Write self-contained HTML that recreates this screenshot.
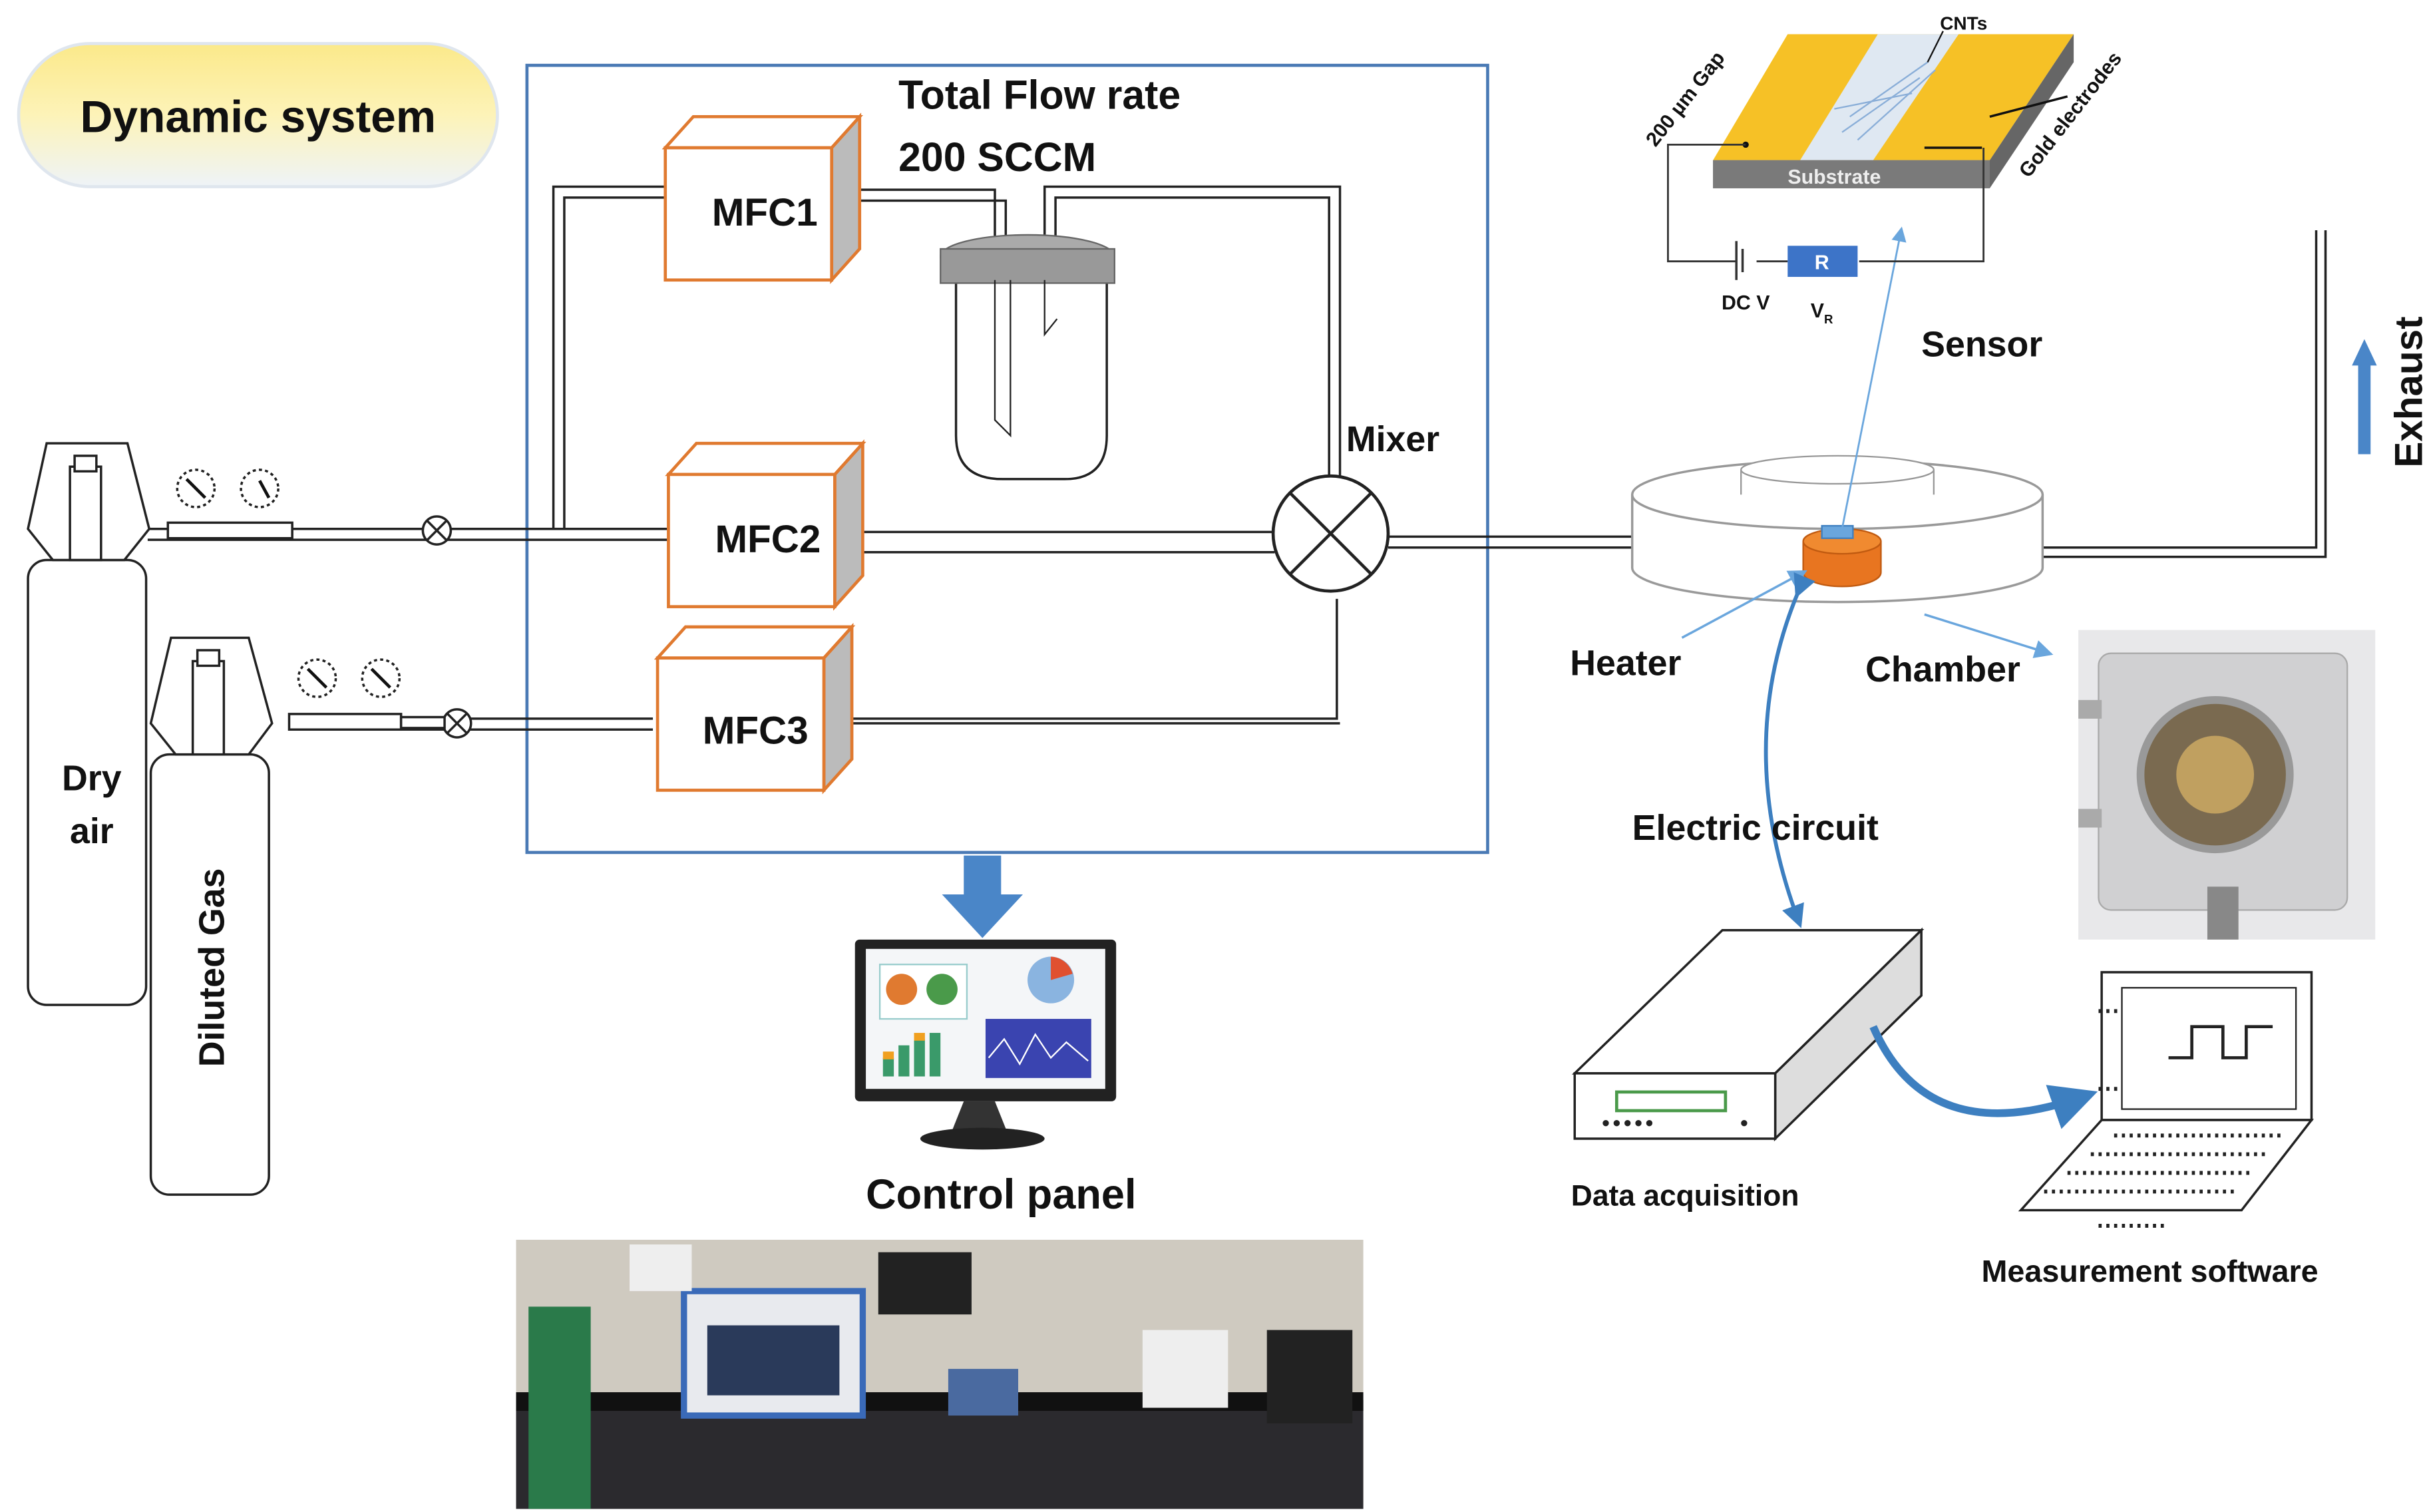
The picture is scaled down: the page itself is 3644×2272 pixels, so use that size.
<!DOCTYPE html>
<html><head><meta charset="utf-8"><style>
html,body{margin:0;padding:0;background:#fff;}
svg{display:block;}
text{font-family:"Liberation Sans",sans-serif;font-weight:bold;fill:#111;}
</style></head><body>
<svg width="3644" height="2272" viewBox="0 0 1560 972" preserveAspectRatio="none" xmlns="http://www.w3.org/2000/svg">
<defs>
<linearGradient id="yg" x1="0" y1="0" x2="0" y2="1"><stop offset="0" stop-color="#fbe98a"/><stop offset="0.5" stop-color="#fdf3b8"/><stop offset="1" stop-color="#eef3f8"/></linearGradient>
<marker id="ab" markerWidth="8" markerHeight="8" refX="6" refY="4" orient="auto"><path d="M0,0 L8,4 L0,8 z" fill="#6aa6dd"/></marker>
<marker id="ab2" markerWidth="6" markerHeight="6" refX="4" refY="3" orient="auto"><path d="M0,0 L6,3 L0,6 z" fill="#3d7fc0"/></marker>
</defs>
<rect width="1560" height="972" fill="#fff"/>
<!-- title pill -->
<rect x="12" y="28" width="308" height="92" rx="46" fill="url(#yg)" stroke="#dfe6ee" stroke-width="2"/>
<text x="166" y="85" font-size="29" text-anchor="middle">Dynamic system</text>
<!-- main box -->
<rect x="339" y="42" width="618" height="506" fill="none" stroke="#4a7ab5" stroke-width="2"/>
<text x="578" y="70" font-size="26">Total Flow rate</text>
<text x="578" y="110" font-size="26">200 SCCM</text>
<!-- pipes (double lines) -->
<g fill="none" stroke="#222" stroke-width="1.5">
<path d="M95,340 H430 M95,347 H430"/>
<path d="M356,340 V120 H430 M363,340 V127 H430"/>
<path d="M555,342 H820 M555,355 H820"/>
<path d="M893,345 H1052 M893,352 H1052"/>
<path d="M535,122 H640 V215 M535,129 H647 V215"/>
<path d="M672,215 V120 H862 V310 M679,205 V127 H855 V310"/>
<path d="M520,462 H860 V385 M520,465 H862"/>
<path d="M190,462 H420 M190,469 H420"/>
<path d="M1312,352 H1490 V148 M1312,358 H1496 V148"/>
</g>
<!-- valves -->
<g fill="#fff" stroke="#222" stroke-width="1.5">
<circle cx="281" cy="341" r="9"/><path d="M275,335 L287,347 M287,335 L275,347"/>
<circle cx="294" cy="465" r="9"/><path d="M288,459 L300,471 M300,459 L288,471"/>
<rect x="108" y="336" width="80" height="10"/>
<rect x="186" y="459" width="72" height="10"/>
<rect x="258" y="461" width="28" height="7"/>
</g>
<!-- gauges -->
<g fill="#fff" stroke="#222" stroke-width="1.5" stroke-dasharray="2,2">
<circle cx="126" cy="314" r="12"/><circle cx="167" cy="314" r="12"/>
<circle cx="204" cy="436" r="12"/><circle cx="245" cy="436" r="12"/>
</g>
<g stroke="#111" stroke-width="2"><path d="M120,308 L132,320 M167,309 L173,320 M198,430 L210,442 M239,430 L251,442"/></g>
<!-- cylinders -->
<g fill="#fff" stroke="#222" stroke-width="1.5">
<rect x="18" y="360" width="76" height="286" rx="12"/>
<path d="M30,285 H82 L96,340 L80,360 H34 L18,340 Z"/>
<rect x="45" y="300" width="20" height="60"/><rect x="48" y="293" width="14" height="10"/>
<rect x="97" y="485" width="76" height="283" rx="12"/>
<path d="M110,410 H160 L175,465 L160,485 H113 L97,465 Z"/>
<rect x="124" y="425" width="20" height="60"/><rect x="127" y="418" width="14" height="10"/>
</g>
<text x="59" y="508" font-size="23" text-anchor="middle">Dry</text>
<text x="59" y="542" font-size="23" text-anchor="middle">air</text>
<text transform="translate(144,622) rotate(-90)" font-size="23" text-anchor="middle">Diluted Gas</text>
<!-- MFCs -->
<g stroke-width="2">
<path d="M535,95 L553,75 V160 L535,180 Z" fill="#bbb" stroke="#e07a30"/>
<path d="M428,95 L446,75 H553 L535,95 Z" fill="#fff" stroke="#e07a30"/>
<rect x="428" y="95" width="107" height="85" fill="#fff" stroke="#e07a30"/>
<path d="M537,305 L555,285 V370 L537,390 Z" fill="#bbb" stroke="#e07a30"/>
<path d="M430,305 L448,285 H555 L537,305 Z" fill="#fff" stroke="#e07a30"/>
<rect x="430" y="305" width="107" height="85" fill="#fff" stroke="#e07a30"/>
<path d="M530,423 L548,403 V488 L530,508 Z" fill="#bbb" stroke="#e07a30"/>
<path d="M423,423 L441,403 H548 L530,423 Z" fill="#fff" stroke="#e07a30"/>
<rect x="423" y="423" width="107" height="85" fill="#fff" stroke="#e07a30"/>
</g>
<text x="492" y="145" font-size="25" text-anchor="middle">MFC1</text>
<text x="494" y="355" font-size="25" text-anchor="middle">MFC2</text>
<text x="486" y="478" font-size="25" text-anchor="middle">MFC3</text>
<!-- bubbler -->
<path d="M615,178 V280 Q615,308 645,308 H685 Q712,308 712,280 V178" fill="#fff" stroke="#222" stroke-width="1.5"/>
<ellipse cx="661" cy="165" rx="56" ry="14" fill="#aaa" stroke="#666"/>
<rect x="605" y="160" width="112" height="22" fill="#999" stroke="#666"/>
<path d="M640,180 V270 L650,280 V180" fill="none" stroke="#222"/>
<path d="M672,180 V215 L680,205" fill="none" stroke="#222"/>
<!-- mixer -->
<circle cx="856" cy="343" r="37" fill="#fff" stroke="#222" stroke-width="2"/>
<path d="M830,317 L882,369 M882,317 L830,369" stroke="#222" stroke-width="2"/>
<text x="866" y="290" font-size="23">Mixer</text>
<!-- arrow down to monitor -->
<path d="M620,550 H644 V575 H658 L632,603 L606,575 H620 Z" fill="#4a86c8"/>
<!-- monitor -->
<rect x="550" y="604" width="168" height="104" rx="3" fill="#222"/>
<rect x="557" y="610" width="154" height="90" fill="#f4f6f8"/>
<rect x="566" y="620" width="56" height="35" fill="#fff" stroke="#9cc"/>
<circle cx="580" cy="636" r="10" fill="#e07a30"/><circle cx="606" cy="636" r="10" fill="#4a9a4a"/>
<circle cx="676" cy="630" r="15" fill="#8ab4e0"/><path d="M676,630 L676,615 A15,15 0 0,1 690,626 Z" fill="#e05030"/>
<g fill="#3a9a6a"><rect x="568" y="680" width="7" height="12"/><rect x="578" y="672" width="7" height="20"/><rect x="588" y="668" width="7" height="24"/><rect x="598" y="664" width="7" height="28"/></g>
<g fill="#f0a020"><rect x="568" y="676" width="7" height="5"/><rect x="588" y="664" width="7" height="5"/></g>
<rect x="634" y="655" width="68" height="38" fill="#3a44b0"/>
<path d="M636,680 L646,668 L656,684 L666,665 L676,680 L686,670 L700,682" stroke="#fff" fill="none"/>
<path d="M625,708 L640,708 L648,728 H612 L620,708 Z" fill="#333"/>
<ellipse cx="632" cy="732" rx="40" ry="7" fill="#222"/>
<text x="644" y="777" font-size="27" text-anchor="middle">Control panel</text>
<!-- lab photo -->
<rect x="332" y="797" width="545" height="173" fill="#cfcac0"/>
<rect x="332" y="900" width="545" height="70" fill="#2b2a2e"/>
<rect x="332" y="895" width="545" height="12" fill="#111"/>
<rect x="440" y="830" width="115" height="80" fill="#e8eaee" stroke="#3a6ab8" stroke-width="4"/>
<rect x="455" y="852" width="85" height="45" fill="#2a3a5a"/>
<rect x="340" y="840" width="40" height="130" fill="#2a7a4a"/>
<rect x="565" y="805" width="60" height="40" fill="#222"/>
<rect x="610" y="880" width="45" height="30" fill="#4a6aa0"/>
<rect x="735" y="855" width="55" height="50" fill="#eeeeee"/>
<rect x="815" y="855" width="55" height="60" fill="#222"/>
<rect x="405" y="800" width="40" height="30" fill="#eee"/>
<!-- chamber -->
<path d="M1050,318 V365 A132,22 0 0,0 1314,365 V318" fill="#fff" stroke="#999" stroke-width="1.5"/>
<ellipse cx="1182" cy="318" rx="132" ry="22" fill="#fff" stroke="#999" stroke-width="1.5"/>
<ellipse cx="1182" cy="302" rx="62" ry="9" fill="#fff" stroke="#999"/>
<path d="M1120,302 V318 M1244,302 V318" stroke="#999"/>
<path d="M1160,348 V368 A25,9 0 0,0 1210,368 V348" fill="#e87520" stroke="#c05a10"/>
<ellipse cx="1185" cy="348" rx="25" ry="8" fill="#f08a30" stroke="#c05a10"/>
<rect x="1172" y="338" width="20" height="8" fill="#6aa6dd" stroke="#3d7fc0"/>
<text x="1010" y="434" font-size="23">Heater</text>
<text x="1200" y="438" font-size="23">Chamber</text>
<path d="M1082,410 L1160,368" stroke="#6aa6dd" stroke-width="1.5" marker-end="url(#ab)"/>
<path d="M1238,395 L1318,420" stroke="#6aa6dd" stroke-width="1.5" marker-end="url(#ab)"/>
<path d="M1185,340 L1223,148" stroke="#6aa6dd" stroke-width="1.2" marker-end="url(#ab)"/>
<!-- chamber photo -->
<rect x="1337" y="405" width="191" height="199" fill="#e8e8ea"/>
<rect x="1350" y="420" width="160" height="165" rx="8" fill="#d0d0d2" stroke="#aaa"/>
<circle cx="1425" cy="498" r="48" fill="#7a6a50" stroke="#999" stroke-width="5"/>
<circle cx="1425" cy="498" r="25" fill="#c0a060"/>
<rect x="1337" y="450" width="15" height="12" fill="#aaa"/><rect x="1337" y="520" width="15" height="12" fill="#aaa"/>
<rect x="1420" y="570" width="20" height="34" fill="#888"/>
<!-- exhaust -->
<text transform="translate(1558,252) rotate(-90)" font-size="25" text-anchor="middle">Exhaust</text>
<path d="M1517,292 V235 H1513 L1521,218 L1529,235 H1525 V292 Z" fill="#4a86c8"/>
<!-- sensor -->
<path d="M1150,22 H1334 L1280,103 H1102 Z" fill="#f6c126"/>
<path d="M1208,22 H1260 L1205,103 H1158 Z" fill="#dfe8f2"/>
<g stroke="#8aaed8" stroke-width="1"><path d="M1190,75 L1240,40 M1185,85 L1235,50 M1195,90 L1245,45 M1180,70 L1230,60"/></g>
<path d="M1102,103 H1280 L1334,22 V40 L1280,121 H1102 Z" fill="#666"/>
<rect x="1102" y="103" width="178" height="18" fill="#7a7a7a"/>
<text x="1180" y="118" font-size="13" fill="#eee" style="fill:#eee" text-anchor="middle">Substrate</text>
<text x="1248" y="19" font-size="12">CNTs</text>
<path d="M1250,20 L1240,40" stroke="#111"/>
<text transform="translate(1065,95) rotate(-52)" font-size="13">200 µm Gap</text>
<text transform="translate(1305,115) rotate(-52)" font-size="13">Gold electrodes</text>
<path d="M1280,75 L1330,62" stroke="#111" stroke-width="1.5"/>
<path d="M1238,95 L1275,95" stroke="#111" stroke-width="1.5"/>
<circle cx="1123" cy="93" r="2" fill="#111"/>
<path d="M1123,93 H1073 V168 H1117 M1130,168 H1150 M1196,168 H1276 V95" fill="none" stroke="#333" stroke-width="1.2"/>
<path d="M1117,155 V180 M1121,160 V175" stroke="#333" stroke-width="1.5"/>
<rect x="1150" y="158" width="45" height="20" fill="#3d74c8"/>
<text x="1172" y="173" font-size="13" style="fill:#fff" text-anchor="middle">R</text>
<text x="1123" y="199" font-size="13" text-anchor="middle">DC V</text>
<text x="1172" y="204" font-size="13" text-anchor="middle">V<tspan font-size="8" dy="4">R</tspan></text>
<text x="1236" y="229" font-size="23">Sensor</text>
<!-- electric circuit -->
<path d="M1157,380 Q1115,480 1157,592" fill="none" stroke="#3d7fc0" stroke-width="2.5" marker-start="url(#ab2)" marker-end="url(#ab2)"/>
<text x="1050" y="540" font-size="23">Electric circuit</text>
<!-- DAQ -->
<path d="M1013,690 L1108,598 H1236 L1142,690 Z" fill="#fff" stroke="#222" stroke-width="1.5"/>
<path d="M1142,690 L1236,598 V640 L1142,732 Z" fill="#ddd" stroke="#222" stroke-width="1.5"/>
<rect x="1013" y="690" width="129" height="42" fill="#fff" stroke="#222" stroke-width="1.5"/>
<rect x="1040" y="702" width="70" height="12" fill="none" stroke="#4a9a4a" stroke-width="2"/>
<g fill="#222"><circle cx="1033" cy="722" r="2"/><circle cx="1040" cy="722" r="2"/><circle cx="1047" cy="722" r="2"/><circle cx="1054" cy="722" r="2"/><circle cx="1061" cy="722" r="2"/><circle cx="1122" cy="722" r="2"/></g>
<text x="1084" y="775" font-size="19" text-anchor="middle">Data acquisition</text>
<path d="M1205,660 Q1240,740 1340,705" fill="none" stroke="#3d7fc0" stroke-width="5" marker-end="url(#ab2)"/>
<!-- laptop -->
<rect x="1352" y="625" width="135" height="95" fill="#fff" stroke="#222" stroke-width="1.5"/>
<rect x="1365" y="635" width="112" height="78" fill="#fff" stroke="#222"/>
<path d="M1395,680 H1410 V660 H1430 V680 H1445 V660 H1462" fill="none" stroke="#222" stroke-width="2"/>
<path d="M1352,720 H1487 L1442,778 H1300 Z" fill="#fff" stroke="#222" stroke-width="1.5"/>
<g stroke="#222" stroke-width="2.5" stroke-dasharray="2,3"><path d="M1360,730 H1470 M1345,742 H1460 M1330,754 H1450 M1315,766 H1440 M1350,788 H1395 M1350,650 H1365 M1350,700 H1365"/></g>
<text x="1383" y="824" font-size="20" text-anchor="middle">Measurement software</text>
</svg>
</body></html>
